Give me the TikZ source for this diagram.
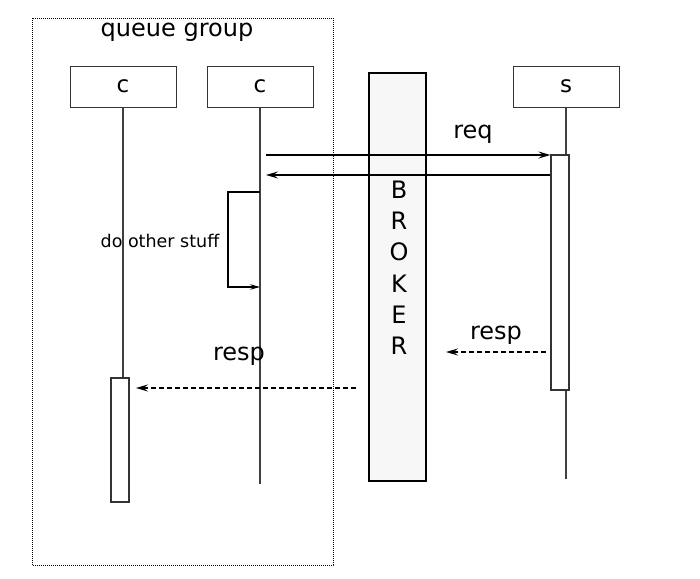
\documentclass[tikz,border=0pt]{standalone}
\usepackage{fontspec}
\setmainfont{DejaVu Sans}
\usetikzlibrary{arrows.meta}
\begin{document}
\begin{tikzpicture}[x=1pt,y=-1pt,
  actor/.style={draw=black!80,line width=1pt,minimum width=106pt,minimum height=41pt,font=\fontsize{23}{28}\selectfont,inner sep=0pt},
  life/.style={draw=black!75,line width=1.2pt},
  act/.style={draw=black!80,fill=white,line width=1.2pt},
  msg/.style={line width=1.6pt,-{Stealth[length=12pt,width=7pt,inset=4.5pt]}},
  rmsg/.style={msg,dash pattern=on 5pt off 3pt},
  lbl/.style={font=\fontsize{24}{28}\selectfont,inner sep=0pt}]
\useasboundingbox (0,0) rectangle (700,578);
% queue group
\draw[line width=0.8pt,dash pattern=on 0.8pt off 1.2pt] (32,18) rectangle (333,565);
\node[lbl] (qg) at (177,32) {queue group};
% actors
\node[actor] (c1) at (123,86.5) {c};
\node[actor] (c2) at (260,86.5) {c};
\node[actor] (s) at (566,86.5) {s};
% broker
\node[draw=black,fill=black!3,line width=1.6pt,minimum width=57pt,minimum height=408pt,inner sep=0pt] (broker) at (397.5,277) {};
\foreach \l/\yy in {B/190,R/221,O/252,K/284,E/315,R/346}
  \node[lbl] at (399,\yy) {\l};
% lifelines
\coordinate (c1a) at (123,378);
\coordinate (c2e) at (260,484);
\coordinate (se) at (566,479);
\draw[life] (c1.south) -- (c1a);
\draw[life] (c2.south) -- (c2e);
\draw[life] (s.south) -- (566,155);
\draw[life] (566,390) -- (se);
% activations
\node[act,minimum width=18pt,minimum height=124pt,inner sep=0pt] (ac1) at (120,440) {};
\node[act,minimum width=18pt,minimum height=235pt,inner sep=0pt] (as) at (560,272.5) {};
% req
\coordinate (reqs) at (266,155);
\draw[msg] (reqs) -- (as.west |- reqs);
\node[lbl] (req) at (473,134) {req};
\coordinate (rete) at (266,175);
\draw[msg] (as.west |- rete) -- (rete);
% self loop
\coordinate (l1) at (260,192);
\coordinate (l2) at (260,287);
\draw[line width=1.2pt,-{Stealth[length=10pt,width=5.5pt,inset=3.5pt]}] (l1) -- (228,192) -- (228,287) -- (l2);
\node[font=\fontsize{17.5}{20}\selectfont,inner sep=0pt] (dos) at (160,241) {do other stuff};
% resp from s
\coordinate (r1s) at (546,352);
\coordinate (r1e) at (446,352);
\draw[rmsg] (r1s) -- (r1e);
\node[lbl] (resp1) at (496,335) {resp};
% resp to c1
\coordinate (r2s) at (356,388);
\coordinate (r2e) at (136,388);
\draw[rmsg] (r2s) -- (r2e);
\node[lbl] (resp2) at (239,356) {resp};
\end{tikzpicture}
\end{document}
